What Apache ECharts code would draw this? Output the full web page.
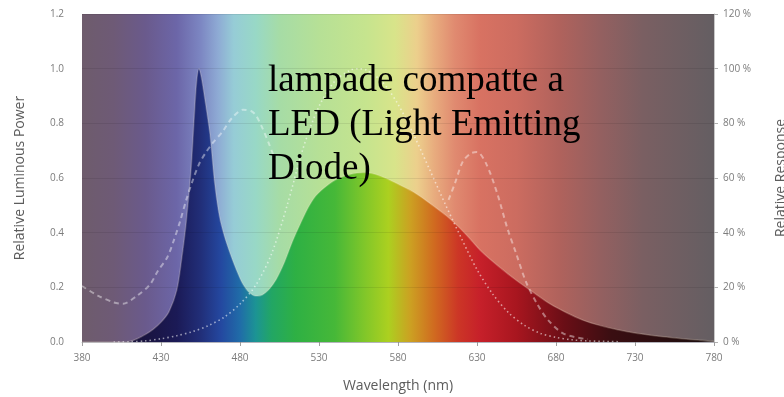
<!DOCTYPE html>
<html><head><meta charset="utf-8">
<script src="https://cdn.jsdelivr.net/npm/echarts@6/dist/echarts.min.js"></script>
<style>html,body{margin:0;padding:0;background:#fff}#c{width:784px;height:397px}</style>
</head><body><div id="c"></div>
<script>
// Wavelength axis (nm)
const xMin = 380, xMax = 780, xStep = 50;
// Left axis: relative luminous power
const yLeftTicks = [0, 0.2, 0.4, 0.6, 0.8, 1.0, 1.2];
// Right axis: relative response (%)
const yRightTicks = [0, 20, 40, 60, 80, 100, 120];

// LED spectrum [nm, relative power]
const ledSpectrum = [
  [380,0],[390,0],[400,0],[410,0.002],[415,0.012],[420,0.027],[425,0.046],[430,0.072],[435,0.11],
  [440,0.19],[443,0.3],[446,0.44],[449,0.63],[451,0.82],[452.5,0.95],[454,1.0],[455.5,0.97],[458,0.88],
  [461,0.76],[464,0.58],[467,0.46],[470,0.39],[474,0.32],[478,0.26],[482,0.21],[486,0.18],
  [490,0.168],[494,0.172],[498,0.19],[503,0.23],[508,0.29],[513,0.365],[518,0.43],[523,0.49],
  [528,0.535],[535,0.572],[542,0.598],[550,0.614],[558,0.62],[565,0.615],[572,0.6],[580,0.578],
  [590,0.548],[600,0.508],[611,0.46],[622,0.4],[633,0.33],[644,0.275],[655,0.225],[666,0.18],
  [676,0.14],[687,0.106],[697,0.08],[708,0.06],[719,0.045],[730,0.033],[740,0.025],[750,0.018],
  [760,0.012],[770,0.007],[780,0.003]
];

// Dotted curve (photopic eye response, %)
const photopic = [
  [400,0],[410,0.1],[420,0.4],[430,1.2],[440,2.3],[450,3.8],[460,6],[470,9.1],[480,13.9],
  [490,20.8],[500,32.3],[510,50.3],[520,71],[530,86.2],[540,95.4],[550,99.5],[555,100],
  [560,99.5],[570,95.2],[580,87],[590,75.7],[600,63.1],[610,50.3],[620,38.1],[630,26.5],
  [640,17.5],[650,10.7],[660,6.1],[670,3.2],[680,1.7],[690,0.8],[700,0.4],[720,0.1]
];

// Dashed curve (relative response, %), null where it is not visible
const response = [
  [380,20.5],[390,17],[400,14.5],[406,14],[415,17],[423,21],[428,26],[434,31],[438,37],
  [442,44],[446,52],[450,59],[454,65],[458,69],[463,73],[469,77],[475,82],[482,85],
  [487,84.5],[490,83],[494,78.5],[498,73],[502,67],[503,null],
  [611,null],[612,52],[616,58],[621,66],[626,69],[630,69.5],[636,65],[643,54],[649,42],
  [655,32],[661,22],[668,14],[675,8],[685,3],[700,1]
];

const note = 'lampade compatte a\nLED (Light Emitting\nDiode)';

function stops(list){
  return list.map(s => ({offset: (s[0]-xMin)/(xMax-xMin), color: s[1]}));
}
const bgGrad = new echarts.graphic.LinearGradient(0,0,1,0, stops([
  [380,'#6e5c6c'],[400,'#6e5a76'],[420,'#6a5a8c'],[440,'#6c66a8'],[455,'#7c86c2'],
  [466,'#8eaad4'],[476,'#96ccd6'],[490,'#98d8c6'],[505,'#a6dca6'],[530,'#b6e096'],
  [560,'#c6e48e'],[578,'#d8e48a'],[592,'#eccf8c'],[603,'#e8ac7e'],[616,'#e08a70'],
  [632,'#d87262'],[655,'#cc6c60'],[682,'#b0625c'],[708,'#946060'],[735,'#7a5f62'],[780,'#645e62']
]));
const areaGrad = new echarts.graphic.LinearGradient(0,0,1,0, stops([
  [380,'#1a1030'],[420,'#1a1440'],[440,'#1b1a56'],[455,'#212e78'],[468,'#2448a0'],
  [480,'#206ca8'],[490,'#1c9494'],[500,'#22a664'],[515,'#2eb044'],[540,'#46b838'],
  [558,'#7ec62a'],[574,'#acd020'],[588,'#cca022'],[603,'#d06a20'],[618,'#cc3626'],
  [632,'#c6202a'],[655,'#a8161f'],[685,'#6a0e16'],[715,'#3a0e12'],[780,'#1a0e0e']
]));

const chart = echarts.init(document.getElementById('c'), null, {renderer:'canvas'});
chart.setOption({
  animation: false,
  grid: {left: 82, right: 70, top: 14, bottom: 55, show: true, backgroundColor: bgGrad, borderWidth: 0,
    containLabel: false, outerBoundsMode: 'none'},
  xAxis: {
    type: 'value', min: xMin, max: xMax, interval: xStep,
    name: 'Wavelength (nm)', nameLocation: 'middle', nameGap: 37,
    nameTextStyle: {color: '#5c5c5c', fontSize: 14, fontFamily: 'Open Sans'},
    axisLine: {show: true, lineStyle: {color: '#c4c4cc', width: 1}},
    axisTick: {show: true, length: 4, lineStyle: {color: '#a0a0a0'}},
    axisLabel: {color: '#7c7c7c', fontSize: 10, fontFamily: 'Open Sans', margin: 11},
    splitLine: {show: false}
  },
  yAxis: [{
    type: 'value', min: 0, max: 1.2, interval: 0.2, z: 10,
    name: 'Relative Luminous Power', nameLocation: 'middle', nameGap: 55, nameRotate: 90,
    nameTextStyle: {color: '#5c5c5c', fontSize: 14, fontFamily: 'Open Sans'},
    axisLine: {show: false}, axisTick: {show: false},
    axisLabel: {color: '#7c7c7c', fontSize: 10, fontFamily: 'Open Sans', margin: 18,
      formatter: v => v.toFixed(1)},
    splitLine: {show: true, lineStyle: {color: 'rgba(0,0,0,0.08)', width: 1}}
  },{
    type: 'value', min: 0, max: 120, interval: 20, position: 'right',
    name: 'Relative Response', nameLocation: 'middle', nameGap: 60, nameRotate: 90,
    nameTextStyle: {color: '#5c5c5c', fontSize: 14, fontFamily: 'Open Sans'},
    axisLine: {show: true, lineStyle: {color: '#c8c8c8'}},
    axisTick: {show: true, length: 4, lineStyle: {color: '#b0b0b0'}},
    axisLabel: {color: '#7c7c7c', fontSize: 10, fontFamily: 'Open Sans', margin: 9,
      formatter: '{value} %'},
    splitLine: {show: false}
  }],
  series: [{
    type: 'line', data: ledSpectrum, smooth: 0.3, symbol: 'none', z: 2,
    lineStyle: {color: 'rgba(255,235,215,0.22)', width: 1.5},
    areaStyle: {color: areaGrad, opacity: 1}
  },{
    type: 'line', yAxisIndex: 1, data: photopic, smooth: 0.3, symbol: 'none', z: 3,
    lineStyle: {color: 'rgba(255,255,255,0.55)', width: 1.6, type: [1.5, 3]}
  },{
    type: 'line', yAxisIndex: 1, data: response, smooth: 0.3, symbol: 'none', z: 3,
    connectNulls: false,
    lineStyle: {color: 'rgba(255,255,255,0.42)', width: 2, type: [5, 4]}
  }],
  graphic: [{
    type: 'text', left: 268, top: 59, z: 100,
    style: {text: note, fill: '#000', fontSize: 37, fontFamily: '"Liberation Serif", "Times New Roman", serif', lineHeight: 44}
  }]
});
</script>
</body></html>
